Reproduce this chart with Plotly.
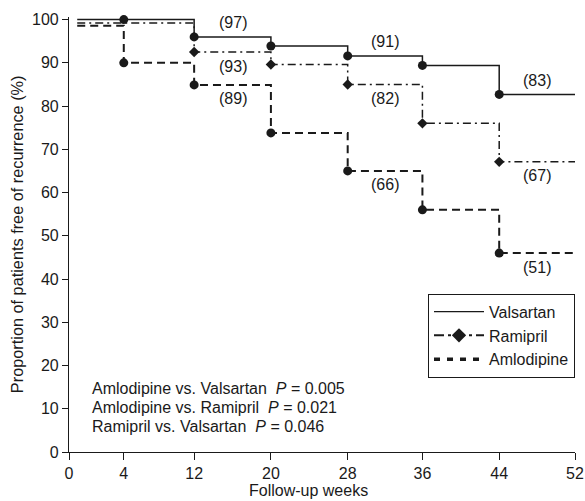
import numpy as np
import plotly.graph_objects as go

# ---- data ----
tick_weeks = [0, 4, 12, 20, 28, 36, 44, 52]
# axis scale of the original figure (uneven spacing of the first ticks)
axis_pos = [0, 5.63, 12.86, 20.75, 28.64, 36.32, 44.21, 52]

start_week = 0.6
end_week = 52
event_weeks = [4, 12, 20, 28, 36, 44]

valsartan_start = 100
valsartan = [100, 96.0, 93.9, 91.6, 89.4, 82.7]
ramipril_start = 99.2
ramipril = [99.2, 92.5, 89.6, 85.0, 76.0, 67.1]
ramipril_marked = [False, True, True, True, True, True]
amlodipine_start = 98.6
amlodipine = [90.0, 84.9, 73.8, 65.0, 56.0, 46.0]

# numbers in brackets: (interval start, interval end, label)
valsartan_labels = [(12, 20, "(97)"), (28, 36, "(91)"), (44, 52, "(83)")]
ramipril_labels = [(12, 20, "(93)"), (28, 36, "(82)"), (44, 52, "(67)")]
amlodipine_labels = [(12, 20, "(89)"), (28, 36, "(66)"), (44, 52, "(51)")]

p_values = [
    ("Amlodipine vs. Valsartan", "0.005"),
    ("Amlodipine vs. Ramipril", "0.021"),
    ("Ramipril vs. Valsartan", "0.046"),
]

FONT = "Liberation Sans, Arial, Helvetica, sans-serif"
INK = "#1a1a1a"
FS = 16


def xpos(w):
    return np.interp(w, tick_weeks, axis_pos)


def step_xy(start, values):
    xs = [start_week] + event_weeks + [end_week]
    ys = [start] + values + [values[-1]]
    return list(xpos(xs)), ys


def value_at(week, values, start):
    v = start
    for w, val in zip(event_weeks, values):
        if week >= w:
            v = val
    return v


fig = go.Figure()

series = [
    ("Amlodipine", amlodipine_start, amlodipine, dict(width=2, dash="8px,5px"), "circle", 9, [True] * 6),
    ("Ramipril", ramipril_start, ramipril, dict(width=1.5, dash="8px,4px,2px,4px"), "diamond", 8, ramipril_marked),
    ("Valsartan", valsartan_start, valsartan, dict(width=1.5, dash="solid"), "circle", 9, [True] * 6),
]

for name, start, vals, line, sym, size, marked in series:
    xs, ys = step_xy(start, vals)
    fig.add_trace(go.Scatter(x=xs, y=ys, mode="lines", line_shape="hv",
                             line=dict(color=INK, **line), showlegend=False,
                             hoverinfo="skip"))
    mx = [xpos(w) for w, m in zip(event_weeks, marked) if m]
    my = [v for v, m in zip(vals, marked) if m]
    fig.add_trace(go.Scatter(x=mx, y=my, mode="markers",
                             marker=dict(symbol=sym, size=size, color=INK, line=dict(width=0)),
                             showlegend=False, cliponaxis=False))

# legend entries
fig.add_trace(go.Scatter(x=[None], y=[None], mode="lines", name="Valsartan",
                         line=dict(color=INK, width=1.2)))
fig.add_trace(go.Scatter(x=[None], y=[None], mode="lines+markers", name="Ramipril",
                         line=dict(color=INK, width=2, dash="10px,4px,3px,4px"),
                         marker=dict(symbol="diamond", size=11, color=INK)))
fig.add_trace(go.Scatter(x=[None], y=[None], mode="lines", name="Amlodipine",
                         line=dict(color=INK, width=3.5, dash="6px,7px")))

annotations = []
for labels, start, vals, shift in [
    (valsartan_labels, valsartan_start, valsartan, 14),
    (ramipril_labels, ramipril_start, ramipril, -14),
    (amlodipine_labels, amlodipine_start, amlodipine, -14),
]:
    for a, b, txt in labels:
        annotations.append(dict(x=(xpos(a) + xpos(b)) / 2, y=value_at(a, vals, start),
                                text=txt, showarrow=False, yshift=shift,
                                font=dict(size=FS, color=INK, family=FONT)))

for i, (comp, p) in enumerate(p_values):
    annotations.append(dict(x=2.2, y=14.8 - 4.46 * i, xanchor="left", yanchor="middle",
                            text=f"{comp}  <i>P</i> = {p}", showarrow=False,
                            font=dict(size=FS, color=INK, family=FONT)))

annotations.append(dict(x=-0.1035, y=0.5, xref="paper", yref="paper", textangle=-90,
                        text="Proportion of patients free of recurrence (%)", showarrow=False,
                        xanchor="center", yanchor="middle",
                        font=dict(size=16.3, color=INK, family=FONT)))
annotations.append(dict(x=0.473, y=-0.089, xref="paper", yref="paper",
                        text="Follow-up weeks", showarrow=False,
                        xanchor="center", yanchor="middle",
                        font=dict(size=FS, color=INK, family=FONT)))

fig.update_layout(
    width=585, height=501,
    margin=dict(l=69.3, r=10.3, t=16.7, b=48.7),
    paper_bgcolor="white", plot_bgcolor="white",
    font=dict(family=FONT, size=FS, color=INK),
    showlegend=True,
    legend=dict(x=1, xanchor="right", y=0.364, yanchor="top",
                bordercolor=INK, borderwidth=1, bgcolor="white",
                font=dict(size=FS, color=INK, family=FONT),
                itemwidth=50, tracegroupgap=0),
    annotations=annotations,
)
fig.update_xaxes(range=[0, 52], tickvals=list(xpos(tick_weeks)),
                 ticktext=[str(w) for w in tick_weeks], automargin=False,
                 showgrid=False, zeroline=False, showline=True, linecolor=INK, linewidth=1.2,
                 ticks="outside", ticklen=7, tickwidth=1.2, tickcolor=INK,
                 tickfont=dict(size=FS, color=INK, family=FONT))
fig.update_yaxes(range=[0, 100.6], tickvals=list(range(0, 101, 10)), automargin=False,
                 showgrid=False, zeroline=False, showline=True, linecolor=INK, linewidth=1.2,
                 ticks="outside", ticklen=6, tickwidth=1.2, tickcolor=INK,
                 tickfont=dict(size=FS, color=INK, family=FONT))

fig.write_html("out.html", config={"displayModeBar": False},
               post_script="document.body.style.margin='0px';document.body.style.overflow='hidden';")
